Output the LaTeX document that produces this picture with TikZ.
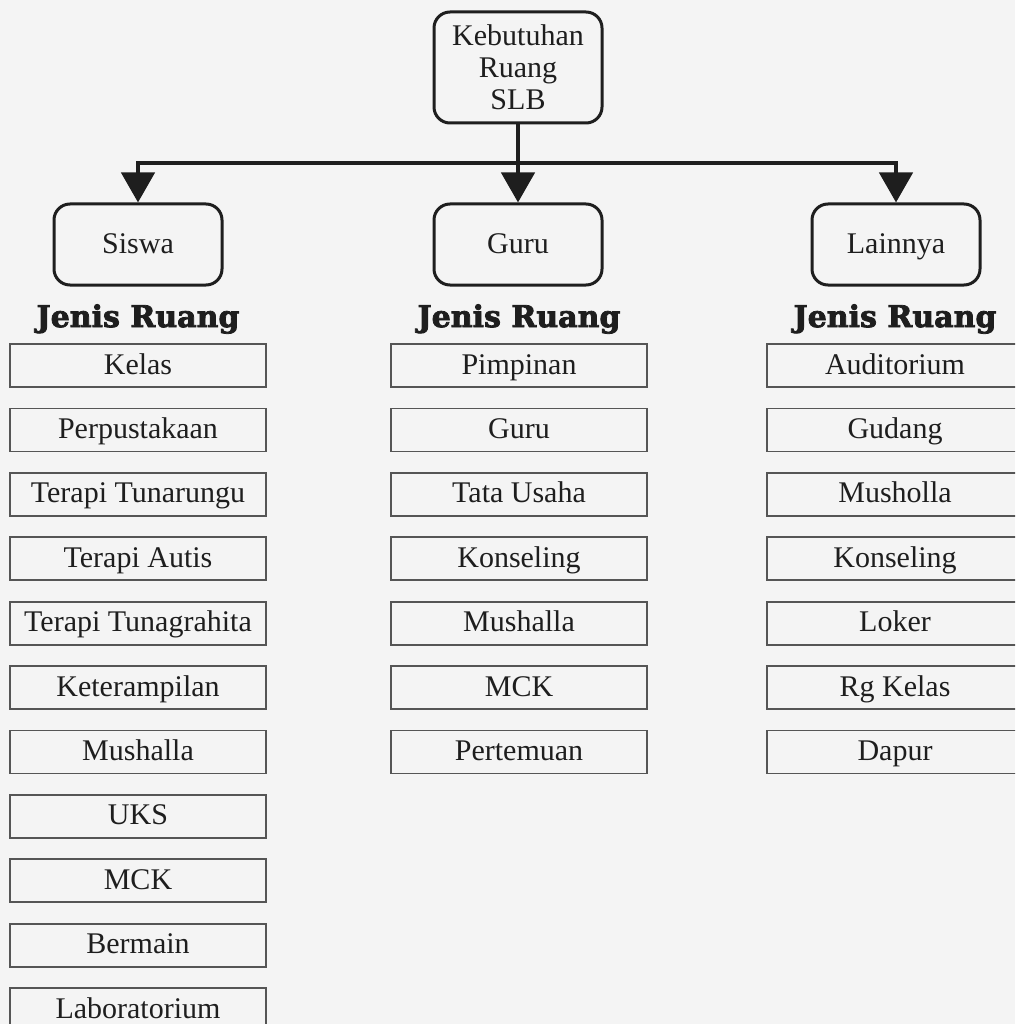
\documentclass[tikz,border=0pt]{standalone}
\usepackage{fontspec}
\setmainfont{Liberation Serif}
\newfontfamily\headfont[FakeBold=2.6]{DejaVu Serif Bold}
\usetikzlibrary{arrows.meta}
\definecolor{paper}{HTML}{F4F4F4}
\definecolor{ink}{HTML}{1E1E1E}
\definecolor{frame}{HTML}{555555}
\begin{document}
\begin{tikzpicture}[x=1pt,y=-1pt,
  every node/.style={text=ink},
  roundbox/.style={draw=ink, line width=3pt, rounded corners=16pt,
    minimum width=168pt, align=center, inner sep=0pt,
    font=\fontsize{30pt}{32pt}\selectfont},
  levelbox/.style={roundbox, minimum height=81pt, text height=22pt, text depth=5pt},
  itembox/.style={draw=frame, line width=1.8pt, minimum width=256pt,
    minimum height=43pt, inner sep=0pt, text height=22pt, text depth=5pt,
    font=\fontsize{30pt}{32pt}\selectfont},
  heading/.style={inner sep=0pt},
  link/.style={draw=ink, line width=4.5pt},
  linkarrow/.style={link, -{Triangle[width=33pt,length=30pt]}}]
\useasboundingbox (0,0) rectangle (1015,1024);
\fill[paper] (0,0) rectangle (1015,1024);
\clip (0,0) rectangle (1015,1024);

% root and first level
\node[roundbox, minimum height=111pt] (root) at (518,67.5) {Kebutuhan\\Ruang\\SLB};
\node[levelbox] (siswa) at (138,244.5) {Siswa};
\node[levelbox] (guru) at (518,244.5) {Guru};
\node[levelbox] (lain) at (896,244.5) {Lainnya};

\coordinate (j) at (518,163);
\draw[link] (root.south) -- (j);
\draw[linkarrow] (j) -| (siswa.north);
\draw[linkarrow] (j) -- (guru.north);
\draw[linkarrow] (j) -| (lain.north);

% headings
\foreach \cx/\nm in {138/hs, 519/hg, 895/hl}
  \node[heading] (\nm) at (\cx,319) {\resizebox{203pt}{!}{\headfont Jenis Ruang}};

% room lists
\foreach \t [count=\i from 0] in {Kelas, Perpustakaan, Terapi Tunarungu, Terapi Autis,
    Terapi Tunagrahita, Keterampilan, Mushalla, UKS, MCK, Bermain, Laboratorium}
  \node[itembox] (s\i) at (138,365.5+64.4*\i) {\t};

\foreach \t [count=\i from 0] in {Pimpinan, Guru, Tata Usaha, Konseling, Mushalla, MCK, Pertemuan}
  \node[itembox] (g\i) at (519,365.5+64.4*\i) {\t};

\foreach \t [count=\i from 0] in {Auditorium, Gudang, Musholla, Konseling, Loker, Rg Kelas, Dapur}
  \node[itembox] (l\i) at (895,365.5+64.4*\i) {\t};
\end{tikzpicture}
\end{document}
